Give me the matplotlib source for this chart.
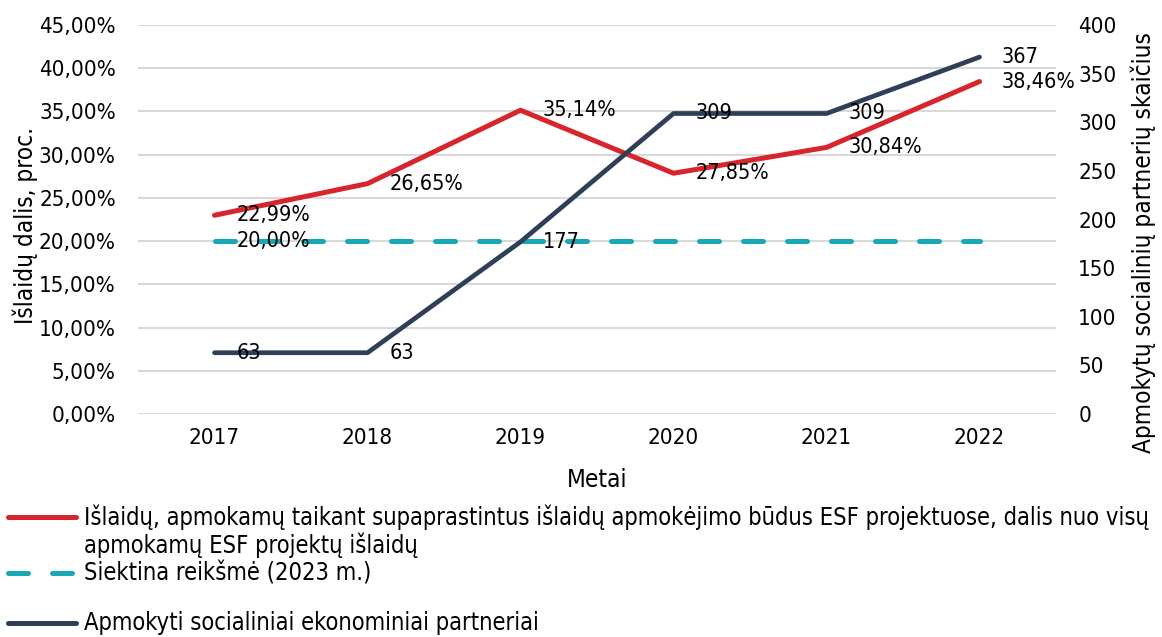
import matplotlib
matplotlib.use("Agg")
import matplotlib.pyplot as plt
from matplotlib.lines import Line2D

plt.rcParams['font.family'] = ['DejaVu Sans']
plt.rcParams['font.stretch'] = 'condensed'

# duomenys
metai = ['2017', '2018', '2019', '2020', '2021', '2022']
islaidu_dalis = [22.99, 26.65, 35.14, 27.85, 30.84, 38.46]
siektina = [20.00, 20.00, 20.00, 20.00, 20.00, 20.00]
partneriai = [63, 63, 177, 309, 309, 367]

left_ticks = [0, 5, 10, 15, 20, 25, 30, 35, 40, 45]
right_ticks = [0, 50, 100, 150, 200, 250, 300, 350, 400]

RED = '#D7252D'
TEAL = '#16A8B3'
NAVY = '#2F3F57'
FS_TICK = 16
FS_LAB = 15.5
FS_AX = 17.5
FS_LEG = 17
DASH = (4, 4.8)

W, H = 1162, 637
fig = plt.figure(figsize=(W / 100, H / 100), dpi=100)
ax = fig.add_axes([138 / W, 1 - 414 / H, (1056 - 138) / W, (414 - 25) / H])
ax2 = ax.twinx()

x = list(range(len(metai)))

ax.plot(x, siektina, color=TEAL, lw=3.6, dashes=DASH, dash_capstyle='round', zorder=3)
ax.plot(x, islaidu_dalis, color=RED, lw=3.6, solid_capstyle='round', zorder=4)
ax2.plot(x, partneriai, color=NAVY, lw=3.4, solid_capstyle='round', zorder=3)


def pct(v):
    return f"{v:.2f}".replace('.', ',') + '%'


for xi, v in zip(x, islaidu_dalis):
    ax.annotate(pct(v), (xi, v), xytext=(16, 0), textcoords='offset points',
                ha='left', va='center', fontsize=FS_LAB, zorder=6)
ax.annotate(pct(siektina[0]), (x[0], siektina[0]), xytext=(16, 0), textcoords='offset points',
            ha='left', va='center', fontsize=FS_LAB, zorder=6)
for xi, v in zip(x, partneriai):
    ax2.annotate(str(v), (xi, v), xytext=(16, 0), textcoords='offset points',
                 ha='left', va='center', fontsize=FS_LAB, zorder=6)

ax.set_xlim(-0.5, len(metai) - 0.5)
ax.set_ylim(0, 45)
ax2.set_ylim(0, 400)
ax.set_xticks(x)
ax.set_xticklabels(metai, fontsize=FS_TICK)
ax.set_yticks(left_ticks)
ax.set_yticklabels([f"{t},00%" for t in left_ticks], fontsize=FS_TICK)
ax2.set_yticks(right_ticks)
ax2.set_yticklabels([str(t) for t in right_ticks], fontsize=FS_TICK)

ax.grid(axis='y', color='#D9D9D9', lw=1.5)
ax.set_axisbelow(True)
for a in (ax, ax2):
    for s in a.spines.values():
        s.set_visible(False)
    a.tick_params(length=0)
ax.tick_params(axis='y', pad=16)
ax.tick_params(axis='x', pad=10)
ax2.tick_params(axis='y', pad=16)

ax.set_xlabel('Metai', fontsize=FS_AX)
ax.set_ylabel('Išlaidų dalis, proc.', fontsize=FS_AX)
ax2.set_ylabel('Apmokytų socialinių partnerių skaičius', fontsize=FS_AX)
# etikečių vietos (ašies dalimis)
ax.xaxis.set_label_coords((597 - 138) / 918, (414 - 468) / 389)
ax.yaxis.set_label_coords((38 - 138) / 918, (414 - 225) / 389)
ax2.yaxis.set_label_coords((1130 - 138) / 918, (414 - 243) / 389)

# legenda rankiniu budu, kad zymeklis butu ties pirma eilute
leg_items = [
    ('line', RED, None, 517,
     'Išlaidų, apmokamų taikant supaprastintus išlaidų apmokėjimo būdus ESF projektuose, dalis nuo visų'),
    ('text', None, None, 545, 'apmokamų ESF projektų išlaidų'),
    ('line', TEAL, DASH, 573, 'Siektina reikšmė (2023 m.)'),
    ('line', NAVY, None, 623, 'Apmokyti socialiniai ekonominiai partneriai'),
]
for kind, col, dash, yy, txt in leg_items:
    yf = 1 - yy / H
    if kind == 'line':
        kw = dict(dashes=dash, dash_capstyle='round') if dash else dict(solid_capstyle='round')
        fig.add_artist(Line2D([8 / W, 76 / W], [yf, yf], color=col, lw=3.6,
                              transform=fig.transFigure, **kw))
    fig.text(84 / W, yf, txt, fontsize=FS_LEG, ha='left', va='center')

fig.savefig('out.png', dpi=100)
